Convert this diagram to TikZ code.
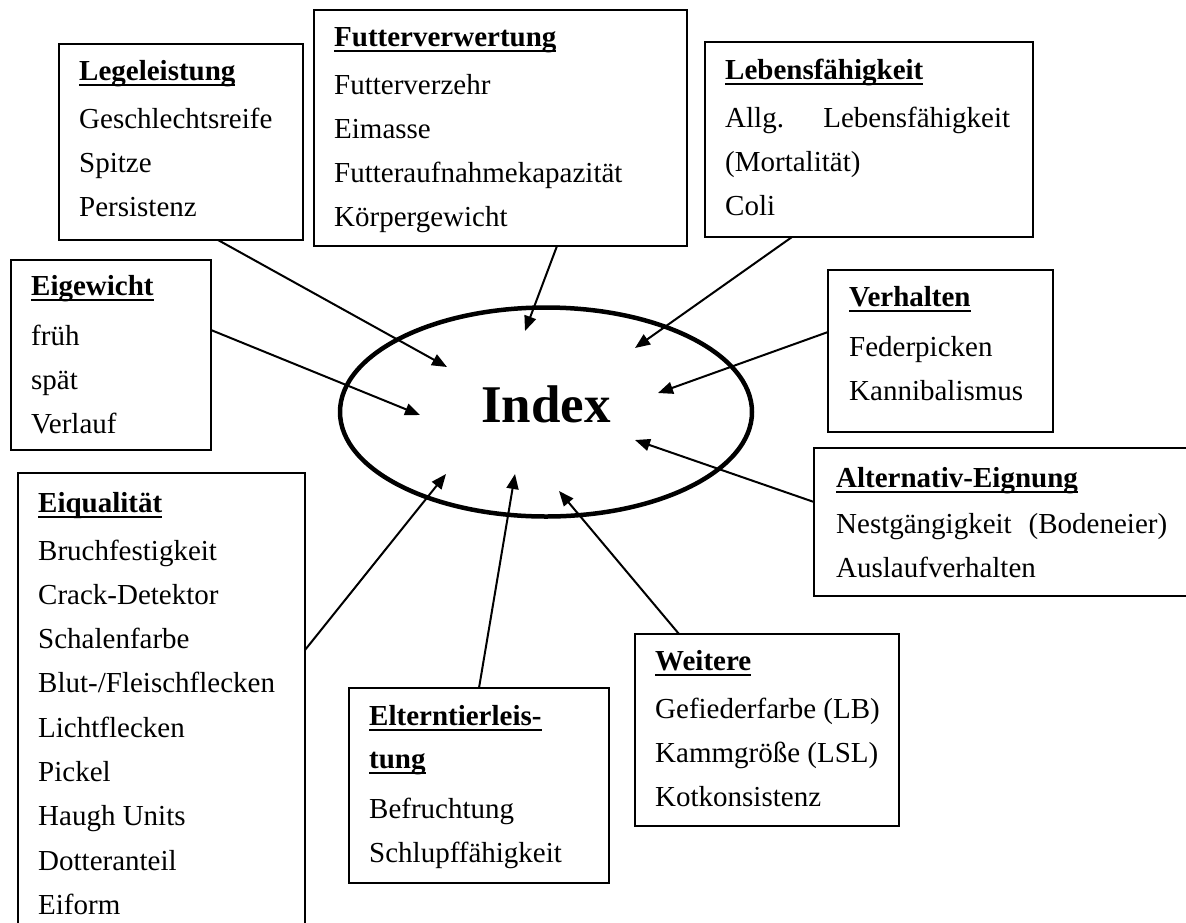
\documentclass[tikz,border=0pt]{standalone}
\usepackage{fontspec}
\setmainfont{Liberation Serif}
\usetikzlibrary{shapes.geometric,arrows.meta,calc}
\newcommand\ttl[1]{\setbox0=\hbox{\bfseries #1}\rlap{\rule[-6pt]{\wd0}{2pt}}\box0}
\begin{document}
\begin{tikzpicture}[x=1pt,y=-1pt,
  box/.style={draw, line width=2pt, anchor=north west, inner sep=0pt, outer sep=0pt},
  txt/.style={anchor=base west, inner sep=0pt, font=\fontsize{29}{44.3}\selectfont},
  arr/.style={line width=2pt, -{Triangle[length=15pt,width=12pt]}},
  ring/.style={draw, ellipse, line width=4.5pt, inner sep=0pt, outer sep=0pt}]
\useasboundingbox (0,0) rectangle (1186,922);
% boxes
\node[box, minimum width=244pt, minimum height=196pt] (leg) at (59,44) {};
\node[box, minimum width=373pt, minimum height=236pt] (fut) at (314,10) {};
\node[box, minimum width=328pt, minimum height=195pt] (leb) at (705,42) {};
\node[box, minimum width=225pt, minimum height=162pt] (ver) at (828,270) {};
\node[box, minimum width=376pt, minimum height=148pt] (alt) at (814,448) {};
\node[box, minimum width=264pt, minimum height=192pt] (wei) at (635,634) {};
\node[box, minimum width=260pt, minimum height=195pt] (elt) at (349,688) {};
\node[box, minimum width=287pt, minimum height=480pt] (eiq) at (18,473) {};
\node[box, minimum width=200pt, minimum height=190pt] (eig) at (11,260) {};
% texts
\node[txt] (legt) at (79,80) {\begin{tabular}[t]{@{}l@{}}\ttl{Legeleistung}\\[3.7pt] Geschlechtsreife\\ Spitze\\ Persistenz\end{tabular}};
\node[txt] (futt) at (334,46) {\begin{tabular}[t]{@{}l@{}}\ttl{Futterverwertung}\\[3.7pt] Futterverzehr\\ Eimasse\\ Futteraufnahmekapazität\\ Körpergewicht\end{tabular}};
\node[txt] (lebt) at (725,79) {\begin{tabular}[t]{@{}l@{}}\ttl{Lebensfähigkeit}\\[3.7pt] \hbox to 285pt{Allg.\hfill Lebensfähigkeit}\\ (Mortalität)\\ Coli\end{tabular}};
\node[txt] (vert) at (849,306) {\begin{tabular}[t]{@{}l@{}}\ttl{Verhalten}\\[5.7pt] Federpicken\\ Kannibalismus\end{tabular}};
\node[txt] (altt) at (836,487) {\begin{tabular}[t]{@{}l@{}}\ttl{Alternativ-Eignung}\\[1.7pt] \hbox to 331pt{Nestgängigkeit\hfill (Bodeneier)}\\ Auslaufverhalten\end{tabular}};
\node[txt] (weit) at (655,670) {\begin{tabular}[t]{@{}l@{}}\ttl{Weitere}\\[3.7pt] Gefiederfarbe (LB)\\ Kammgröße (LSL)\\ Kotkonsistenz\end{tabular}};
\node[txt] (eltt) at (369,725) {\begin{tabular}[t]{@{}l@{}}\ttl{Elterntierleis-}\\[-1.3pt] \ttl{tung}\\[5.7pt] Befruchtung\\ Schlupffähigkeit\end{tabular}};
\node[txt] (eiqt) at (38,512) {\begin{tabular}[t]{@{}l@{}}\ttl{Eiqualität}\\[3.7pt] Bruchfestigkeit\\ Crack-Detektor\\ Schalenfarbe\\ Blut-/Fleischflecken\\ Lichtflecken\\ Pickel\\ Haugh Units\\ Dotteranteil\\ Eiform\end{tabular}};
\node[txt] (eigt) at (31,295) {\begin{tabular}[t]{@{}l@{}}\ttl{Eigewicht}\\[5.7pt] früh\\ spät\\ Verlauf\end{tabular}};
% central ellipse
\node[ring, minimum width=412pt, minimum height=209pt] (idx) at (546,412) {};
\node[anchor=base, inner sep=0pt, font=\fontsize{53}{60}\selectfont\bfseries] (idxt) at (546,422) {Index};
% arrow tips
\coordinate (t1) at (447,367);
\coordinate (t2) at (420,415);
\coordinate (t3) at (525,331);
\coordinate (t4) at (635,348);
\coordinate (t5) at (658,393);
\coordinate (t6) at (635,440);
\coordinate (t7) at (446,474);
\coordinate (t8) at (515,474);
\coordinate (t9) at (559,491);
% connectors
\draw[arr] ($(leg.south west)+(159,0)$) -- (t1);
\draw[arr] ($(eig.north east)+(0,70)$) -- (t2);
\draw[arr] ($(fut.south west)+(243,0)$) -- (t3);
\draw[arr] ($(leb.south west)+(87,0)$) -- (t4);
\draw[arr] ($(ver.north west)+(0,62)$) -- (t5);
\draw[arr] ($(alt.north west)+(0,54)$) -- (t6);
\draw[arr] ($(eiq.north east)+(0,177)$) -- (t7);
\draw[arr] ($(elt.north west)+(130,0)$) -- (t8);
\draw[arr] ($(wei.north west)+(44,0)$) -- (t9);
\end{tikzpicture}
\end{document}
